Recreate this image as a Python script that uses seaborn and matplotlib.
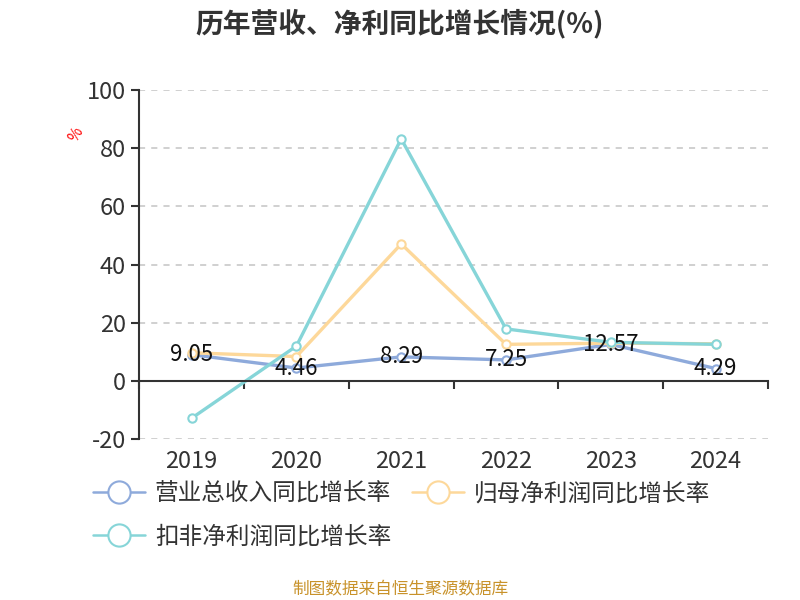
import pandas as pd
import matplotlib.pyplot as plt
import seaborn as sns
from matplotlib.lines import Line2D
from matplotlib.ticker import FixedLocator

years = ["2019", "2020", "2021", "2022", "2023", "2024"]
revenue_growth = [9.05, 4.46, 8.29, 7.25, 12.57, 4.29]
parent_profit_growth = [9.7, 8.4, 47.1, 12.6, 13.0, 12.8]
deducted_profit_growth = [-12.8, 12.0, 83.2, 17.9, 13.3, 12.6]

series_names = ["营业总收入同比增长率", "归母净利润同比增长率", "扣非净利润同比增长率"]
colors = ["#8eaadb", "#fdd89a", "#86d5d8"]

df = pd.DataFrame({
    "year": years * 3,
    "value": revenue_growth + parent_profit_growth + deducted_profit_growth,
    "series": [series_names[0]] * 6 + [series_names[1]] * 6 + [series_names[2]] * 6,
})
df["x"] = df["year"].map({y: i for i, y in enumerate(years)})

sns.set_style("white")
plt.rcParams['font.family'] = ['Noto Sans CJK SC', 'DejaVu Sans']
plt.rcParams['axes.unicode_minus'] = False

fig = plt.figure(figsize=(8, 6), dpi=100)
ax = fig.add_axes([0.174, 0.268, 0.786, 0.582])

sns.lineplot(data=df, x="x", y="value", hue="series", palette=colors,
             linewidth=2.4, marker="o", markersize=6, markerfacecolor="white",
             markeredgewidth=1.5, legend=False, ax=ax)
# marker edges same colour as line
for line, c in zip(ax.lines, colors):
    line.set_markeredgecolor(c)

# value labels for revenue growth
for i, v in enumerate(revenue_growth):
    ax.text(i, v, f"{v:.2f}", ha="center", va="center", fontsize=16, color="#111111", zorder=5)

ax.set_xlim(-0.5, 5.5)
ax.set_ylim(-20, 100)
ax.set_yticks(range(-20, 101, 20))
ax.yaxis.grid(True, linestyle=(0, (4, 4)), color="#c4c4c4", linewidth=1.1)
ax.set_axisbelow(True)

ax.spines["top"].set_visible(False)
ax.spines["right"].set_visible(False)
ax.spines["left"].set_color("#333333")
ax.spines["left"].set_linewidth(1.5)
ax.spines["bottom"].set_position(("data", 0))
ax.spines["bottom"].set_color("#333333")
ax.spines["bottom"].set_linewidth(1.5)

ax.set_xticks(range(len(years)))
ax.set_xticklabels(years)
ax.xaxis.set_minor_locator(FixedLocator([i - 0.5 for i in range(len(years) + 1)]))
ax.tick_params(axis="x", which="major", bottom=True, length=0, pad=50,
               labelsize=17, labelcolor="#333333")
ax.tick_params(axis="x", which="minor", bottom=True, length=6, width=1.5,
               color="#333333", direction="out")
ax.tick_params(axis="y", length=6, width=1.5, color="#333333", direction="out",
               labelsize=17, labelcolor="#333333", left=True)

ax.set_xlabel("")
ax.set_ylabel("%", color="red", fontsize=11, rotation=60)
ax.yaxis.set_label_coords(-0.088, 0.86)

fig.suptitle("历年营收、净利同比增长情况(%)", fontsize=20, fontweight="bold",
             color="#333333", y=0.985)

handles = [Line2D([0], [0], color=c, linewidth=1.8, marker="o", markersize=16,
                  markerfacecolor="white", markeredgewidth=1.5) for c in colors]
order = [0, 2, 1]
fig.legend([handles[i] for i in order], [series_names[i] for i in order],
           loc="upper left", bbox_to_anchor=(0.105, 0.212), ncol=2, frameon=False,
           fontsize=17, handlelength=2.2, handletextpad=0.4, columnspacing=0.9,
           labelspacing=0.85, labelcolor="#333333", borderaxespad=0)

fig.text(0.5, 0.01, "制图数据来自恒生聚源数据库", ha="center", fontsize=12, color="#c8922a")

fig.savefig("out.png", dpi=100)
